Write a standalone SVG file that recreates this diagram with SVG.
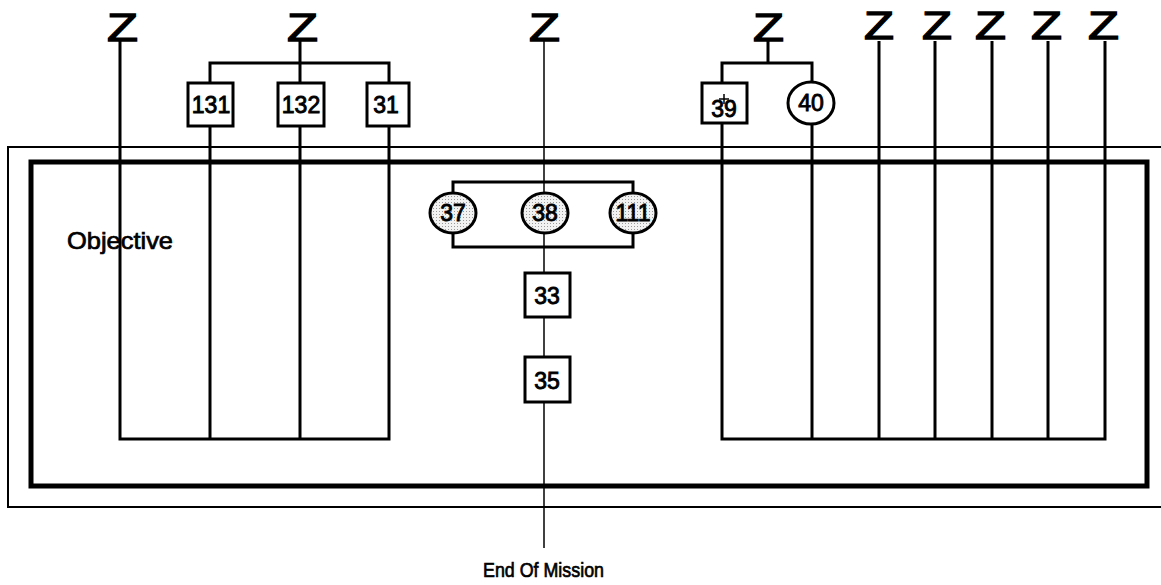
<svg xmlns="http://www.w3.org/2000/svg" width="1161" height="585" viewBox="0 0 1161 585">
<defs>
<pattern id="dots" width="3" height="3" patternUnits="userSpaceOnUse">
<rect width="3" height="3" fill="#f2f2f2"/>
<rect x="1" y="1" width="1" height="1" fill="#9a9a9a"/>
</pattern>
</defs>
<style>
.w{stroke:#000;stroke-width:3;fill:none}
.thin{stroke:#000;stroke-width:1.5;fill:none}
.box{stroke:#000;stroke-width:3;fill:#fff}
.circ{stroke:#000;stroke-width:3;fill:url(#dots)}
.circw{stroke:#000;stroke-width:3;fill:#fff}
.lbl{font-family:"Liberation Sans",Arial,sans-serif;font-size:23px;fill:#000;stroke:#000;stroke-width:0.9;text-anchor:middle}
.z{font-family:"Liberation Sans",Arial,sans-serif;font-size:39px;fill:#000;stroke:#000;stroke-width:1.3}
.txt{font-family:"Liberation Sans",Arial,sans-serif;fill:#000;stroke:#000;stroke-width:0.7}
</style>
<rect width="1161" height="585" fill="#fff"/>
<g id="frame">
<path d="M1161,147 H8 V507 H1161" fill="none" stroke="#000" stroke-width="2"/>
<rect x="31" y="162" width="1116" height="324" fill="none" stroke="#000" stroke-width="5"/>
</g>
<g id="connectors">
<path class="w" d="M120,41 V439 H389 V126"/>
<path class="w" d="M210,126 V439 M300,126 V439"/>
<path class="w" d="M300,41 V63 M210,83 V63 H389 V83 M300,63 V83"/>
<path class="w" d="M768,41 V63 M722,83 V63 H812 V82"/>
<path class="w" d="M722,123 V439 H1105 V41 M812,124 V439"/>
<path class="w" d="M879,41 V439 M935,41 V439 M992,41 V439 M1048,41 V439"/>
<path class="thin" d="M544,41 V548"/>
<path class="w" d="M453,213 V182 H633 V213 M453,213 V247 H633 V213"/>
</g>
<g id="z-symbols">
<text class="z" x="107" y="41" textLength="31" lengthAdjust="spacingAndGlyphs">Z</text>
<text class="z" x="287" y="41" textLength="31" lengthAdjust="spacingAndGlyphs">Z</text>
<text class="z" x="529" y="41" textLength="31" lengthAdjust="spacingAndGlyphs">Z</text>
<text class="z" x="753" y="41" textLength="31" lengthAdjust="spacingAndGlyphs">Z</text>
<text class="z" x="864" y="39" textLength="30" lengthAdjust="spacingAndGlyphs">Z</text>
<text class="z" x="922" y="39" textLength="30" lengthAdjust="spacingAndGlyphs">Z</text>
<text class="z" x="975" y="39" textLength="31" lengthAdjust="spacingAndGlyphs">Z</text>
<text class="z" x="1031" y="39" textLength="31" lengthAdjust="spacingAndGlyphs">Z</text>
<text class="z" x="1088" y="39" textLength="31" lengthAdjust="spacingAndGlyphs">Z</text>
</g>
<g id="n131"><rect class="box" x="188" y="83" width="45" height="43"/><text class="lbl" x="211" y="113">131</text></g>
<g id="n132"><rect class="box" x="278" y="83" width="46" height="43"/><text class="lbl" x="301" y="113">132</text></g>
<g id="n31"><rect class="box" x="367" y="83" width="42" height="43"/><text class="lbl" x="386" y="113">31</text></g>
<g id="n39"><rect class="box" x="702" y="83" width="45" height="40"/><text class="lbl" x="724" y="117">39</text><path d="M724,94 V104 M719,99 H729" stroke="#000" stroke-width="1.5"/></g>
<g id="n40"><ellipse class="circw" cx="811" cy="103" rx="23" ry="21"/><text class="lbl" x="811" y="111">40</text></g>
<g id="n37"><ellipse class="circ" cx="453" cy="213" rx="23" ry="20"/><text class="lbl" x="453" y="221">37</text></g>
<g id="n38"><ellipse class="circ" cx="545" cy="213" rx="23" ry="20"/><text class="lbl" x="545" y="221">38</text></g>
<g id="n111"><ellipse class="circ" cx="633" cy="213" rx="23" ry="20"/><text class="lbl" x="633" y="221">111</text></g>
<g id="n33"><rect class="box" x="525" y="273" width="45" height="44"/><text class="lbl" x="547" y="304">33</text></g>
<g id="n35"><rect class="box" x="525" y="357" width="45" height="45"/><text class="lbl" x="547" y="389">35</text></g>
<g id="labels">
<text class="txt" x="67" y="249" font-size="24" textLength="106" lengthAdjust="spacingAndGlyphs">Objective</text>
<text class="txt" x="483" y="577" font-size="21" textLength="121" lengthAdjust="spacingAndGlyphs">End Of Mission</text>
</g>
</svg>
